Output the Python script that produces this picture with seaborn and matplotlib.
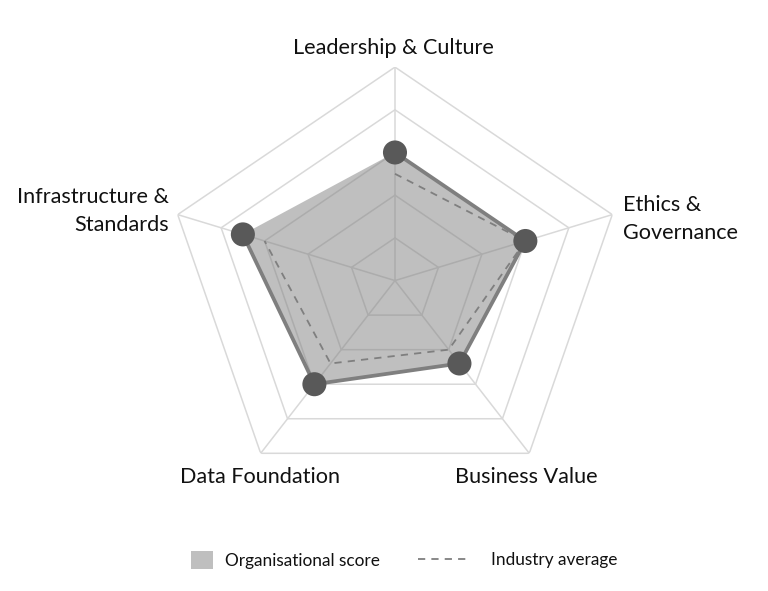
import numpy as np
import pandas as pd
import matplotlib
matplotlib.use("Agg")
import matplotlib.pyplot as plt
import seaborn as sns
from matplotlib.patches import Patch
from matplotlib.lines import Line2D

# ---- data ----
categories = ["Leadership & Culture", "Ethics &\nGovernance", "Business Value",
              "Data Foundation", "Infrastructure &\nStandards"]
org_score = [3.0, 3.0, 2.4, 3.0, 3.5]
industry_avg = [2.5, 3.0, 2.0, 2.4, 3.0]
grid_levels = [1, 2, 3, 4, 5]
series_names = ["Organisational score", "Industry average"]

sns.set_theme(style="white")
plt.rcParams['font.family'] = ['Lato', 'DejaVu Sans']

fig = plt.figure(figsize=(7.68, 5.91), dpi=100)
ax = fig.add_axes([0.2168, 0.164, 0.595, 0.7225], projection='polar')
ax.set_aspect('auto')
ax.set_theta_offset(np.pi / 2)
ax.set_theta_direction(-1)

n = len(categories)
theta = np.linspace(0, 2 * np.pi, n, endpoint=False)
theta_c = np.append(theta, theta[0])

grid_col = '#D9D9D9'
for lv in grid_levels:
    ax.plot(theta_c, [lv] * (n + 1), color=grid_col, lw=1.1, zorder=1)
for t in theta:
    ax.plot([t, t], [0, grid_levels[-1]], color=grid_col, lw=1.1, zorder=1)

org_c = org_score + org_score[:1]
avg_c = industry_avg + industry_avg[:1]

df_org = pd.DataFrame({'theta': theta_c, 'value': org_c})
df_avg = pd.DataFrame({'theta': theta_c, 'value': avg_c})

ax.fill(theta_c, org_c, color='#808080', alpha=0.5, lw=0, zorder=2)
sns.lineplot(data=df_org, x='theta', y='value', sort=False, ax=ax,
             color='#7F7F7F', lw=2.7, zorder=3)
sns.lineplot(data=df_avg, x='theta', y='value', sort=False, ax=ax,
             color='#7F7F7F', lw=1.3, zorder=4, dashes=False)
ax.lines[-1].set_linestyle((0, (4.0, 3.4)))
sns.scatterplot(x=theta, y=org_score, ax=ax, color='#595959', s=300,
                edgecolor='none', zorder=5)

ax.set_ylim(0, 5)
ax.set_xticks([])
ax.set_yticks([])
ax.grid(False)
ax.spines['polar'].set_visible(False)
ax.set_xlabel('')
ax.set_ylabel('')
ax.patch.set_alpha(0)

# category labels
offsets = [(-2, 19), (11, -4), (-3, -24), (-1, -24), (-9, 4)]
aligns = [('center', 'center'), ('left', 'center'), ('center', 'center'),
          ('center', 'center'), ('right', 'center')]
for t, lab, off, (ha, va) in zip(theta, categories, offsets, aligns):
    ax.annotate(lab, xy=(t, grid_levels[-1]), xytext=off, textcoords='offset pixels',
                ha=ha, va=va, multialignment=ha, fontsize=15.6, color='#111111',
                linespacing=1.5, annotation_clip=False)

# legend
leg1 = fig.legend(handles=[Patch(facecolor='#BFBFBF', edgecolor='none', label=series_names[0])],
                  loc='center left', bbox_to_anchor=(191 / 768, 1 - 560 / 591),
                  frameon=False, fontsize=12.4, handlelength=1.3, handleheight=1.25,
                  handletextpad=0.7, borderpad=0, borderaxespad=0)
leg2 = fig.legend(handles=[Line2D([0], [0], color='#7F7F7F', lw=1.3,
                                  linestyle=(0, (4.0, 3.4)), label=series_names[1])],
                  loc='center left', bbox_to_anchor=(418 / 768, 1 - 560 / 591),
                  frameon=False, fontsize=12.4, handlelength=2.8,
                  handletextpad=1.45, borderpad=0, borderaxespad=0)
for lg in (leg1, leg2):
    for txt in lg.get_texts():
        txt.set_color('#111111')

fig.savefig('out.png', dpi=100)
